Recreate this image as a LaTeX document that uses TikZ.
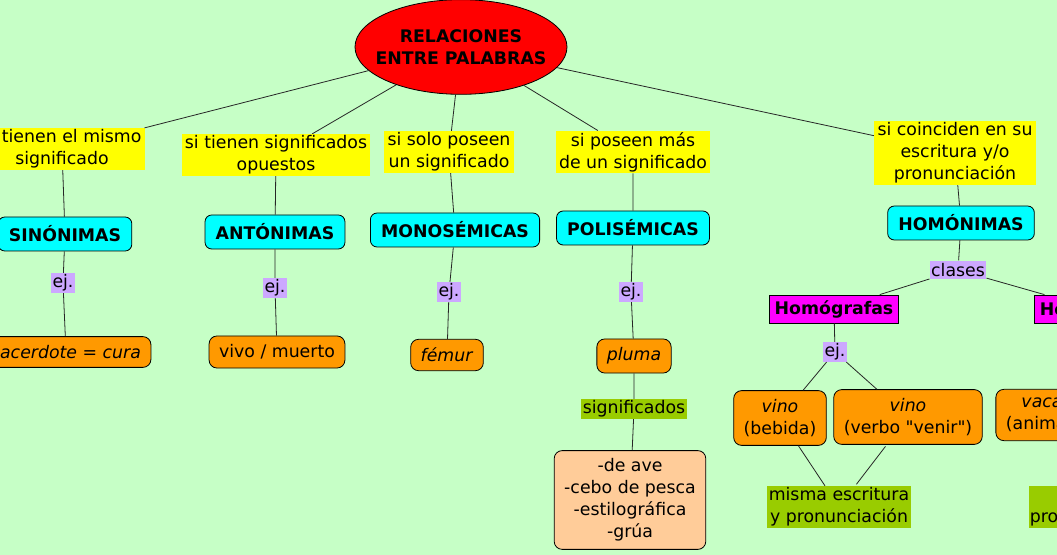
\documentclass[tikz,border=0pt]{standalone}
\usepackage{fontspec}
\setmainfont{DejaVu Sans}
\usetikzlibrary{shapes.geometric}

\definecolor{fondo}{HTML}{C6FFC6}
\definecolor{amarillo}{HTML}{FFFF00}
\definecolor{cian}{HTML}{00FFFF}
\definecolor{naranja}{HTML}{FF9900}
\definecolor{salmon}{HTML}{FFCC99}
\definecolor{lila}{HTML}{CCA8FF}
\definecolor{oliva}{HTML}{99CC00}
\definecolor{rosa}{HTML}{FF00FF}
\definecolor{rojo}{HTML}{FF0000}

\newcommand\tam{\fontsize{13}{16.5}\selectfont}

\begin{document}
\begin{tikzpicture}[x=0.75pt,y=-0.75pt,font=\tam,line width=0.6pt,
  cond/.style={fill=amarillo,align=center,inner xsep=2.5pt,inner ysep=1pt},
  tipo/.style={draw,fill=cian,rounded corners=5pt,font=\tam\bfseries,
    minimum height=25.5pt,inner xsep=8pt,inner ysep=0pt},
  enlace/.style={fill=lila,inner sep=1pt,minimum height=14pt},
  ejemplo/.style={draw,fill=naranja,rounded corners=6pt,align=center,
    inner xsep=7.5pt,inner ysep=6.5pt},
  nota/.style={fill=oliva,align=center,inner sep=1pt},
  clase/.style={draw,fill=rosa,font=\tam\bfseries,minimum height=21pt,
    inner xsep=4pt,inner ysep=0pt},
  conector/.style={draw,black!85,shorten <=1.5pt,shorten >=1.5pt}]

\useasboundingbox (0,0) rectangle (1057,555);
\clip (0,0) rectangle (1057,555);
\fill [fondo] (0,0) rectangle (1057,555);

\node (raiz) at (461,47) [ellipse,draw,fill=rojo,font=\tam\bfseries,align=center,
  minimum width=159pt,minimum height=71pt,inner xsep=-11pt,inner ysep=0pt]
  {RELACIONES\\ENTRE PALABRAS};

\node (cmismo) at (62,149) [cond] {si tienen el mismo\\significado};
\node (copues) at (276,155) [cond] {si tienen significados\\opuestos};
\node (cuno)   at (449,152) [cond] {si solo poseen\\un significado};
\node (cvarios) at (633,152) [cond] {si poseen más\\de un significado};
\node (ccoinc) at (955,153) [cond] {si coinciden en su\\escritura y/o\\pronunciación};

\node (sin)  at (65,234)  [tipo] {SINÓNIMAS};
\node (ant)  at (275,232) [tipo] {ANTÓNIMAS};
\node (mono) at (455,230) [tipo] {MONOSÉMICAS};
\node (poli) at (633,228) [tipo] {POLISÉMICAS};
\node (homo) at (961,223) [tipo] {HOMÓNIMAS};

\node (ejsin)  at (63,283)  [enlace] {ej.};
\node (ejant)  at (275,288) [enlace] {ej.};
\node (ejmono) at (449,292) [enlace] {ej.};
\node (ejpoli) at (631,292) [enlace] {ej.};
\node (clases) at (958,270) [enlace] {clases};

\node (exsin)  at (66,352)  [ejemplo] {\textit{sacerdote = cura}};
\node (exant)  at (277,352) [ejemplo] {vivo / muerto};
\node (exmono) at (447,355) [ejemplo] {\textit{fémur}};
\node (expoli) at (634,356) [ejemplo] {\textit{pluma}};

\node (signif) at (634,409) [nota] {significados};
\node (lista) at (630,500) [ejemplo,fill=salmon,inner ysep=6pt]
  {-de ave\\-cebo de pesca\\-estilográfica\\-grúa};

\node (grafas) at (834,309)  [clase] {Homógrafas};
\node (fonas)  at (1095,309) [clase] {Homófonas};

\node (ejgraf) at (835,352) [enlace] {ej.};
\node (vino)  at (780,418) [ejemplo] {\textit{vino}\\(bebida)};
\node (vinov) at (908,417) [ejemplo] {\textit{vino}\\(verbo \textquotedbl venir\textquotedbl)};
\node (vaca)  at (1042,415) [ejemplo] {\textit{vaca}\\(animal)};

\node (misma)  at (839,507)  [nota] {misma escritura\\y pronunciación};
\node (mismap) at (1091,507) [nota] {misma\\pronunciación};

\path [conector]
    (raiz) -- (cmismo)
    (raiz) -- (copues)
    (raiz) -- (cuno)
    (raiz) -- (cvarios)
    (raiz) -- (ccoinc)
    (cmismo) -- (sin)
    (copues) -- (ant)
    (cuno) -- (mono)
    (cvarios) -- (poli)
    (ccoinc) -- (homo)
    (sin) -- (ejsin)
    (ejsin) -- (exsin)
    (ant) -- (ejant)
    (ejant) -- (exant)
    (mono) -- (ejmono)
    (ejmono) -- (exmono)
    (poli) -- (ejpoli)
    (ejpoli) -- (expoli)
    (expoli) -- (signif)
    (signif) -- (lista)
    (homo) -- (clases)
    (clases) -- (grafas)
    (clases) -- (fonas)
    (grafas) -- (ejgraf)
    (ejgraf) -- (vino)
    (ejgraf) -- (vinov)
    (vino) -- (misma)
    (vinov) -- (misma)
;

\end{tikzpicture}
\end{document}
